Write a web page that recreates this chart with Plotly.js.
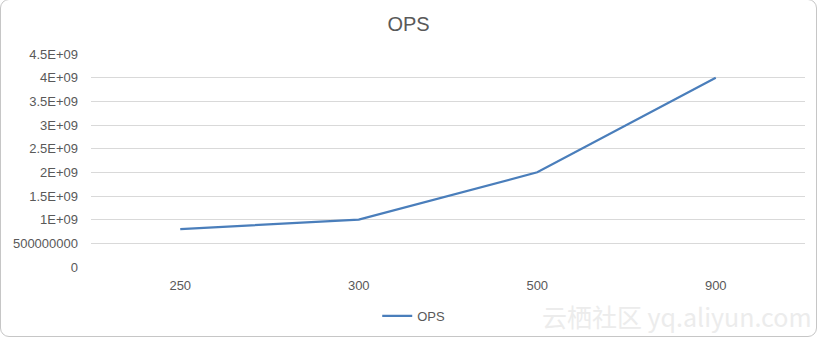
<!DOCTYPE html>
<html>
<head>
<meta charset="utf-8">
<script src="https://cdn.plot.ly/plotly-3.0.1.min.js"></script>
<style>
  html, body { margin: 0; padding: 0; background: #ffffff; }
  #wrap { position: relative; width: 822px; height: 339px; overflow: hidden; }
  #chart { position: absolute; left: 0; top: 0; width: 822px; height: 339px; }
  #frame { position: absolute; left: 0; top: -1px; width: 817px; height: 338px;
           border: 1px solid #c6c6c6; border-radius: 9px; pointer-events: none; box-sizing: border-box; }
</style>
</head>
<body>
<div id="wrap">
  <div id="chart"></div>
  <div id="frame"></div>
</div>
<script>
const categories = ['250', '300', '500', '900'];
const opsValues = [0.8e9, 1.0e9, 2.0e9, 4.0e9];
const yTickValues = [0, 0.5e9, 1e9, 1.5e9, 2e9, 2.5e9, 3e9, 3.5e9, 4e9, 4.5e9];
const yTickLabels = ['0', '500000000', '1E+09', '1.5E+09', '2E+09', '2.5E+09', '3E+09', '3.5E+09', '4E+09', '4.5E+09'];
const seriesName = 'OPS';
const chartTitle = 'OPS';
const watermark = '云栖社区 yq.aliyun.com';

const textColor = '#595959';
const fontFam = 'Liberation Sans, Arial, sans-serif';

const trace = {
  x: categories,
  y: opsValues,
  type: 'scatter',
  mode: 'lines',
  name: seriesName,
  line: { color: '#4a7ebb', width: 2.2 },
  hoverinfo: 'none'
};

const layout = {
  width: 822,
  height: 339,
  margin: { l: 91, r: 17, t: 54, b: 72, autoexpand: false },
  paper_bgcolor: '#ffffff',
  plot_bgcolor: '#ffffff',
  font: { family: fontFam, size: 13, color: textColor },
  title: {
    text: chartTitle,
    font: { family: fontFam, size: 20, color: textColor },
    x: 0.497, xanchor: 'center',
    y: 0.93, yanchor: 'middle', yref: 'container'
  },
  xaxis: {
    type: 'category',
    range: [-0.5, 3.5],
    showgrid: false,
    zeroline: false,
    showline: false,
    ticks: '',
    ticklabelstandoff: 9,
    tickfont: { family: fontFam, size: 13, color: textColor },
    fixedrange: true
  },
  yaxis: {
    range: [0, 4.5e9],
    tickmode: 'array',
    tickvals: yTickValues,
    ticktext: yTickLabels,
    showgrid: true,
    gridcolor: '#d9d9d9',
    gridwidth: 1,
    zeroline: false,
    showline: false,
    ticks: '',
    ticklabelstandoff: 12,
    tickfont: { family: fontFam, size: 13, color: textColor },
    fixedrange: true
  },
  showlegend: true,
  legend: {
    orientation: 'h',
    x: 0.452, xanchor: 'center',
    yref: 'container',
    y: 0.068, yanchor: 'middle',
    font: { family: fontFam, size: 13, color: textColor },
    itemwidth: 30
  },
  annotations: [{
    text: watermark,
    xref: 'paper', yref: 'paper',
    x: 1.012, xanchor: 'right',
    y: -0.23, yanchor: 'middle',
    showarrow: false,
    font: { family: 'Noto Sans CJK SC, Liberation Sans, sans-serif', size: 25, color: '#ececec' }
  }]
};

Plotly.newPlot('chart', [trace], layout, { displayModeBar: false, staticPlot: true });
</script>
</body>
</html>
